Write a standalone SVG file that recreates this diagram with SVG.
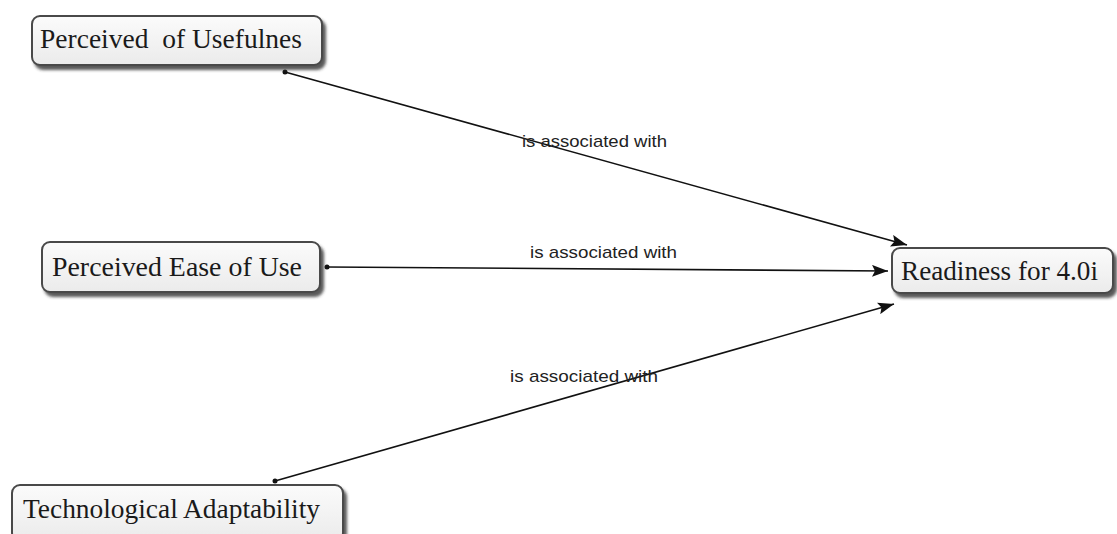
<svg xmlns="http://www.w3.org/2000/svg" width="1117" height="534" viewBox="0 0 1117 534">
  <style>
    .box { fill: url(#boxfill); stroke: #4a4a4a; stroke-width: 2; filter: url(#shadow); }
    .lbl { font-family: "Liberation Serif", "Times New Roman", serif; font-size: 27px; fill: #1a1a1a; }
    .edge { stroke: #111; stroke-width: 1.6; fill: none; marker-end: url(#arrow); }
    .dot { fill: #111; }
    .elbl { font-family: "Liberation Sans", Arial, sans-serif; font-size: 17px; fill: #222; }
  </style>
  <defs>
    <linearGradient id="boxfill" x1="0" y1="0" x2="0" y2="1">
      <stop offset="0" stop-color="#fbfbfb"/>
      <stop offset="1" stop-color="#ebebeb"/>
    </linearGradient>
    <filter id="shadow" x="-10%" y="-20%" width="125%" height="160%">
      <feDropShadow dx="3" dy="4" stdDeviation="1.5" flood-color="#333" flood-opacity="0.8"/>
    </filter>
    <marker id="arrow" markerUnits="userSpaceOnUse" markerWidth="18" markerHeight="12" refX="16" refY="6" orient="auto">
      <path d="M0,0 L16,6 L0,12 L3,6 z" fill="#111"/>
    </marker>
  </defs>
  <rect width="1117" height="534" fill="#ffffff"/>

  <g id="connectors">
    <line class="edge" x1="285" y1="72" x2="907" y2="245"/>
    <circle class="dot" cx="285" cy="72" r="2.5"/>
    <text class="elbl" x="522" y="147" textLength="145" lengthAdjust="spacingAndGlyphs">is associated with</text>

    <line class="edge" x1="327" y1="267" x2="888" y2="271"/>
    <circle class="dot" cx="327" cy="267" r="2.5"/>
    <text class="elbl" x="530" y="258" textLength="147" lengthAdjust="spacingAndGlyphs">is associated with</text>

    <line class="edge" x1="275" y1="481" x2="894" y2="304"/>
    <circle class="dot" cx="275" cy="481" r="2.5"/>
    <text class="elbl" x="510" y="382" textLength="148" lengthAdjust="spacingAndGlyphs">is associated with</text>
  </g>

  <g id="node-usefulness">
    <rect class="box" x="32" y="16" width="290" height="49" rx="8"/>
    <text class="lbl" x="40" y="48" textLength="262" lengthAdjust="spacingAndGlyphs">Perceived&#160; of Usefulnes</text>
  </g>
  <g id="node-ease">
    <rect class="box" x="42" y="242" width="278" height="50" rx="8"/>
    <text class="lbl" x="52" y="276" textLength="250" lengthAdjust="spacingAndGlyphs">Perceived Ease of Use</text>
  </g>
  <g id="node-readiness">
    <rect class="box" x="892" y="248" width="221" height="45" rx="8"/>
    <text class="lbl" x="901" y="280" textLength="197" lengthAdjust="spacingAndGlyphs">Readiness for 4.0i</text>
  </g>
  <g id="node-tech">
    <rect class="box" x="12" y="485" width="331" height="56" rx="8"/>
    <text class="lbl" x="23" y="518" textLength="297" lengthAdjust="spacingAndGlyphs">Technological Adaptability</text>
  </g>
</svg>
